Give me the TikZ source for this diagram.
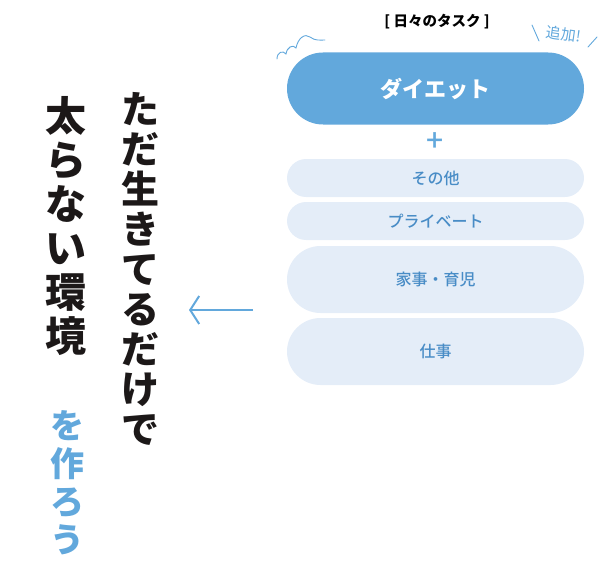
\documentclass[tikz,border=0pt]{standalone}
\usepackage{fontspec}
\newfontfamily\jpfont{Noto Sans CJK JP}
\newfontfamily\jpmedium{Noto Sans CJK JP}[UprightFont={* Medium}]
\usetikzlibrary{arrows.meta}
\definecolor{task_blue}{RGB}{98,168,220}
\definecolor{task_light}{RGB}{228,237,248}
\definecolor{task_text}{RGB}{72,140,198}
\definecolor{ink}{RGB}{28,24,24}
\tikzset{
	pill/.style = {
		rectangle,
		align=center,
		inner sep=0pt,
		minimum width=297pt
	},
	pill_main/.style = {
		pill,
		fill=task_blue,
		text=white,
		minimum height=72pt,
		rounded corners=36pt,
		font=\jpfont\bfseries\fontsize{22}{24}\selectfont
	},
	pill_thin/.style = {
		pill,
		fill=task_light,
		text=task_text,
		minimum height=38pt,
		rounded corners=19pt,
		font=\jpmedium\fontsize{16}{18}\selectfont
	},
	pill_wide/.style = {
		pill_thin,
		minimum height=67pt,
		rounded corners=33.5pt
	},
	column_ink/.style = {
		align=center,
		inner sep=0pt,
		text=ink,
		font=\jpfont\bfseries\fontsize{38}{40}\selectfont
	},
	column_blue/.style = {
		column_ink,
		text=task_blue,
		font=\jpfont\bfseries\fontsize{34}{38}\selectfont
	},
	mark_blue/.style = {
		draw=task_blue,
		line width=0.9pt,
		line cap=round
	}
}

\begin{document}
\begin{tikzpicture}[x=1pt, y=-1pt]
\useasboundingbox (0,0) rectangle (615,583);
% task list
\node [font=\jpfont\bfseries\fontsize{14.5}{16}\selectfont] (title) at (437,22) {[ 日々のタスク ]};
\node [pill_main] (diet) at (435.5,88.5) {ダイエット};
\node [text=task_blue, font=\jpmedium\fontsize{30}{30}\selectfont] (plus) at (435.5,142) {+};
\node [pill_thin] (other) at (435.5,178) {その他};
\node [pill_thin] (private) at (435.5,221) {プライベート};
\node [pill_wide] (home) at (435.5,279.5) {家事・育児};
\node [pill_wide] (work) at (435.5,351.5) {仕事};
% added mark
\node [text=task_blue, rotate=-8, inner sep=0pt, font=\jpfont\fontsize{15}{17}\selectfont] (added) at (564,34) {追加!};
\draw [mark_blue] (532,25) -- (539,41);
\draw [mark_blue] (588,47) -- (597,37);
\draw [mark_blue] (277,59) .. controls (277,52) and (283,50) .. (286,54)
	.. controls (287,47) and (293,44) .. (296,48)
	.. controls (298,38) and (305,33) .. (310,37)
	.. controls (315,41) and (320,40) .. (325,40);
% arrow
\coordinate (arrow_tail) at (253,310);
\coordinate (arrow_head) at (189,310);
\draw [draw=task_blue, line width=2pt, -{Straight Barb[length=9pt,width=28pt,line width=2pt]}] (arrow_tail) -- (arrow_head);
% title columns
\node [column_ink] (line_one) at (140,269) {た\\だ\\生\\き\\て\\る\\だ\\け\\で};
\node [column_ink, font=\jpfont\bfseries\fontsize{41}{44}\selectfont] (line_two) at (66,226) {太\\ら\\な\\い\\環\\境};
\node [column_blue] (line_three) at (67,483) {を\\作\\ろ\\う};
\end{tikzpicture}
\end{document}
